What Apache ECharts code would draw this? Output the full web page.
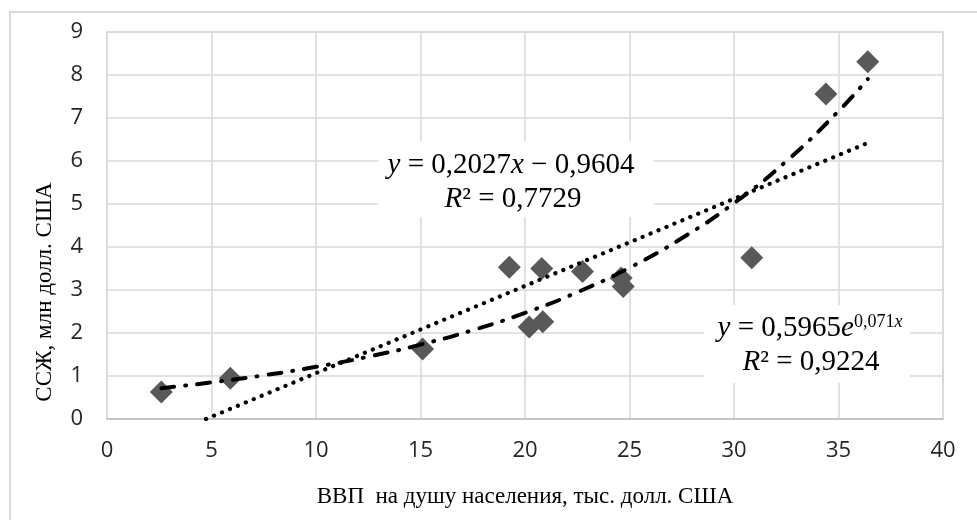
<!DOCTYPE html>
<html>
<head>
<meta charset="utf-8">
<script src="https://cdn.jsdelivr.net/npm/echarts@6/dist/echarts.min.js"></script>
<style>html,body{margin:0;padding:0;background:#fff}#c{width:977px;height:520px}</style>
</head>
<body>
<div id="c"></div>
<script>
// Scatter data: GDP per capita (thous. USD) vs. value (mln USD)
const gdpX = [2.6, 5.9, 15.1, 19.25, 20.2, 20.85, 20.8, 22.75, 24.6, 24.7, 30.85, 34.4, 36.4];
const valY = [0.63, 0.95, 1.63, 3.53, 2.14, 2.26, 3.5, 3.43, 3.28, 3.08, 3.75, 7.56, 8.31];

// Linear trendline end points (y = 0,2027x − 0,9604)
const linTrendX = [4.74, 36.4];
const linTrendY = [0, 6.42];

// Exponential trendline points (y = 0,5965e^0,071x)
const expTrendX = [2.6, 5, 7.5, 10, 12.5, 15, 17.5, 20, 22.5, 25, 27.5, 30, 32.5, 35, 36.4];
const expTrendY = [0.717, 0.851, 1.016, 1.213, 1.449, 1.730, 2.066, 2.468, 2.947, 3.519, 4.203, 5.019, 5.994, 7.159, 7.907];

const xTicks = [0, 5, 10, 15, 20, 25, 30, 35, 40];
const yTicks = [0, 1, 2, 3, 4, 5, 6, 7, 8, 9];

const xTitle = 'ВВП  на душу населения, тыс. долл. США';
const yTitle = 'ССЖ, млн долл. США';

const zip = (a, b) => a.map((v, i) => [v, b[i]]);

const chart = echarts.init(document.getElementById('c'));
const serif = '"Liberation Serif", "DejaVu Serif", serif';
const tickFont = { fontFamily: '"Open Sans", sans-serif', fontSize: 22, color: '#262626' };

chart.setOption({
  animation: false,
  backgroundColor: '#fff',
  grid: { left: 107, right: 34, top: 32, bottom: 101, show: true, borderColor: '#d9d9d9', borderWidth: 1.5, containLabel: false },
  xAxis: {
    type: 'value', min: xTicks[0], max: xTicks[xTicks.length - 1], interval: 5,
    name: xTitle, nameLocation: 'middle', nameGap: 66,
    nameTextStyle: { fontFamily: serif, fontSize: 23, color: '#000' },
    axisLine: { show: true, lineStyle: { color: '#bfbfbf', width: 1.5 } },
    axisTick: { show: false },
    axisLabel: Object.assign({ margin: 21 }, tickFont),
    splitLine: { show: true, lineStyle: { color: '#d9d9d9', width: 1.5 } }
  },
  yAxis: {
    type: 'value', min: yTicks[0], max: yTicks[yTicks.length - 1], interval: 1,
    axisLine: { show: false },
    axisTick: { show: false },
    axisLabel: Object.assign({ margin: 24 }, tickFont),
    splitLine: { show: true, lineStyle: { color: '#d9d9d9', width: 1.5 } }
  },
  series: [
    {
      type: 'scatter', data: zip(gdpX, valY), symbol: 'diamond', symbolSize: 23,
      itemStyle: { color: '#595959', opacity: 1 }, z: 2
    },
    {
      type: 'line', data: zip(linTrendX, linTrendY), showSymbol: false, symbol: 'none',
      lineStyle: { color: '#000', width: 4.2, type: [0.1, 8.5], cap: 'round' }, z: 3
    },
    {
      type: 'line', data: zip(expTrendX, expTrendY), showSymbol: false, symbol: 'none', smooth: true,
      lineStyle: { color: '#000', width: 4, type: [13, 11, 1, 11], cap: 'round' }, z: 3
    }
  ],
  graphic: [
    { type: 'rect', shape: { x: 10, y: 12, width: 1100, height: 700 }, style: { fill: 'none', stroke: '#d9d9d9', lineWidth: 2 }, z: 0, silent: true },
    { type: 'text', x: 45, y: 292, rotation: Math.PI / 2, z: 5, style: {
        text: yTitle, align: 'center', verticalAlign: 'middle',
        fontFamily: serif, fontSize: 23, fill: '#000' } },
    { type: 'rect', shape: { x: 378, y: 141, width: 276, height: 76 }, style: { fill: '#fff' }, z: 10 },
    { type: 'text', x: 511, y: 165, z: 11, style: {
        text: '{i|y} = 0,2027{i|x} − 0,9604', align: 'center', verticalAlign: 'middle',
        fontFamily: serif, fontSize: 29, fill: '#000',
        rich: { i: { fontStyle: 'italic', fontFamily: serif, fontSize: 29 } } } },
    { type: 'text', x: 513, y: 199, z: 11, style: {
        text: '{i|R}² = 0,7729', align: 'center', verticalAlign: 'middle',
        fontFamily: serif, fontSize: 29, fill: '#000',
        rich: { i: { fontStyle: 'italic', fontFamily: serif, fontSize: 29 } } } },
    { type: 'rect', shape: { x: 704, y: 305, width: 206, height: 78 }, style: { fill: '#fff' }, z: 10 },
    { type: 'text', x: 810, y: 328, z: 11, style: {
        text: '{i|y} = 0,5965{i|e}{s|0,071}{si|x}', align: 'center', verticalAlign: 'middle',
        fontFamily: serif, fontSize: 29, fill: '#000',
        rich: {
          i: { fontStyle: 'italic', fontFamily: serif, fontSize: 29 },
          s: { fontFamily: serif, fontSize: 18, verticalAlign: 'top' },
          si: { fontFamily: serif, fontSize: 18, fontStyle: 'italic', verticalAlign: 'top' }
        } } },
    { type: 'text', x: 811, y: 362, z: 11, style: {
        text: '{i|R}² = 0,9224', align: 'center', verticalAlign: 'middle',
        fontFamily: serif, fontSize: 29, fill: '#000',
        rich: { i: { fontStyle: 'italic', fontFamily: serif, fontSize: 29 } } } }
  ]
});
</script>
</body>
</html>
